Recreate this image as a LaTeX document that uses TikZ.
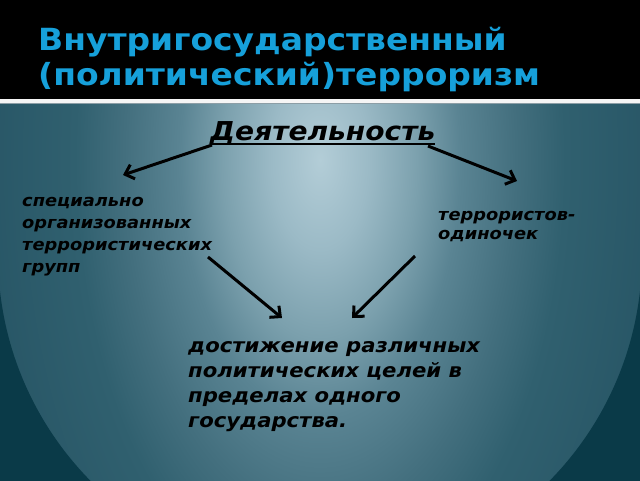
\documentclass[tikz,border=0pt]{standalone}
\usepackage{fontspec}
\setmainfont{DejaVu Sans}[FakeStretch=1.08]
\usetikzlibrary{arrows.meta}
\definecolor{titleblue}{RGB}{22,160,218}
\definecolor{cA}{HTML}{B3CDD7}
\definecolor{cB}{HTML}{9BBAC6}
\definecolor{cC}{HTML}{7BA0AD}
\definecolor{cD}{HTML}{5A8493}
\definecolor{cE}{HTML}{436F7E}
\definecolor{cF}{HTML}{30606F}
\definecolor{cG}{HTML}{275565}
\definecolor{darkcorner}{HTML}{0A3A48}
\definecolor{rulegray}{RGB}{140,158,166}
\pgfdeclareradialshading{bgshade}{\pgfpoint{0bp}{0bp}}{color(0bp)=(cA); color(3.5bp)=(cB); color(7bp)=(cC); color(10bp)=(cD); color(14bp)=(cE); color(17.5bp)=(cF); color(25bp)=(cG); color(50bp)=(cG)}
\begin{document}
\begin{tikzpicture}[x=1pt,y=-1pt,
  titletext/.style={font=\bfseries\fontsize{30.5}{35}\selectfont, text=titleblue, inner sep=0pt, align=left, anchor=base west},
  headtext/.style={font=\bfseries\itshape\fontsize{26}{30}\selectfont, text=black, inner sep=0pt, anchor=base west},
  sidetext/.style={font=\bfseries\itshape\fontsize{16.5}{21.7}\selectfont, text=black, inner sep=0pt, align=left, anchor=base west},
  righttext/.style={font=\bfseries\itshape\fontsize{16.5}{19}\selectfont, text=black, inner sep=0pt, align=left, anchor=base west},
  goaltext/.style={font=\bfseries\itshape\fontsize{19.6}{25}\selectfont, text=black, inner sep=0pt, align=left, anchor=base west},
  arr/.style={line width=3pt, black, -{Straight Barb[length=8pt,width=15pt]}}
]
\useasboundingbox (0,0) rectangle (640,480);
% background
\fill[black] (0,0) rectangle (640,99);
\fill[white!92!gray] (0,99) rectangle (640,102.5);
\fill[rulegray] (0,102.5) rectangle (640,104);
\begin{scope}
  \clip (0,104) rectangle (640,480);
  \fill[cG] (0,104) rectangle (640,480);
  \shade[shading=bgshade] (320,160) ellipse [x radius=350pt, y radius=640pt];
  \begin{scope}
    \clip (-10,255) rectangle (650,490);
    \fill[darkcorner, even odd rule] (-20,-200) rectangle (660,500) (320,255) circle [radius=322pt];
  \end{scope}
\end{scope}
% texts
\node[titletext] (title) at (38,85) {Внутригосударственный\\(политический)терроризм};
\node[headtext] (dey) at (210,140) {Деятельность};
\draw[line width=1.8pt] ([yshift=-4pt]dey.base west) -- ([yshift=-4pt]dey.base east);
\node[sidetext] (groups) at (22,272) {специально\\организованных\\террористических\\групп};
\node[righttext] (single) at (438,239) {террористов-\\одиночек};
\node[goaltext] (goal) at (188,427) {достижение различных\\политических целей в\\пределах одного\\государства.};
% arrow endpoints
\coordinate (a1s) at (212,145);
\coordinate (a1e) at (123,175);
\coordinate (a2s) at (428,146);
\coordinate (a2e) at (517,181);
\coordinate (a3s) at (208,257);
\coordinate (a3e) at (282,318);
\coordinate (a4s) at (415,256);
\coordinate (a4e) at (352,318);
\draw[arr] (a1s) -- (a1e);
\draw[arr] (a2s) -- (a2e);
\draw[arr] (a3s) -- (a3e);
\draw[arr] (a4s) -- (a4e);
\end{tikzpicture}
\end{document}
